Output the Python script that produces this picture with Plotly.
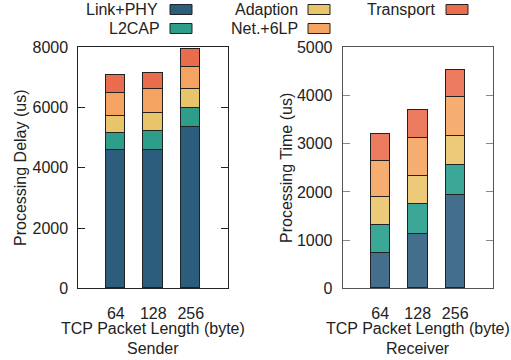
import plotly.graph_objects as go

categories = ["64", "128", "256"]
series_names = ["Link+PHY", "L2CAP", "Adaption", "Net.+6LP", "Transport"]

# Sender (stacked component values, us)
sender_link = [4570, 4595, 5350]
sender_l2cap = [580, 610, 630]
sender_adapt = [575, 590, 610]
sender_net = [755, 795, 755]
sender_transport = [575, 555, 575]

# Receiver (stacked component values, us)
recv_link = [726, 1127, 1921]
recv_l2cap = [587, 616, 631]
recv_adapt = [567, 587, 602]
recv_net = [755, 782, 801]
recv_transport = [566, 573, 568]

colors_left = ["#2d5d7c", "#2e9e8a", "#e8c46a", "#f4a460", "#e96d4c"]
colors_right = ["#436e8c", "#3aa797", "#edc97a", "#f5ad70", "#ec7b5f"]

sender = [sender_link, sender_l2cap, sender_adapt, sender_net, sender_transport]
receiver = [recv_link, recv_l2cap, recv_adapt, recv_net, recv_transport]

FONT = "Liberation Sans, Arial, sans-serif"
fig = go.Figure()
for i, name in enumerate(series_names):
    fig.add_trace(go.Bar(x=categories, y=sender[i], name=name, marker_color=colors_left[i],
                         marker_line=dict(color="#222", width=1), width=0.53,
                         xaxis="x", yaxis="y", showlegend=False))
    fig.add_trace(go.Bar(x=categories, y=receiver[i], name=name, marker_color=colors_right[i],
                         marker_line=dict(color="#222", width=1), width=0.53,
                         xaxis="x2", yaxis="y2", showlegend=False))

W, H = 511, 360
def px(x):
    return x / W
def py(y):
    return 1 - y / H

common_x = dict(type="category", range=[-1, 3], showline=True, mirror=True, ticks="",
                tickfont=dict(size=16, color="#222"), ticklabelstandoff=10, automargin=False)
common_y = dict(showline=True, mirror="ticks", ticks="inside", ticklen=7, showgrid=False,
                zeroline=False, tickfont=dict(size=16, color="#222"), ticklabelstandoff=6,
                automargin=False)

fig.update_layout(
    width=W, height=H, margin=dict(l=0, r=0, t=0, b=0),
    paper_bgcolor="white", plot_bgcolor="white", barmode="stack", bargap=0,
    font=dict(family=FONT, size=16, color="#222"),
    xaxis=dict(**common_x, domain=[px(78.3), px(228.3)], anchor="y", linecolor="#222"),
    yaxis=dict(**common_y, domain=[py(288.3), py(47.3)], anchor="x", range=[0, 8000],
               dtick=2000, linecolor="#222", tickcolor="#222"),
    xaxis2=dict(**common_x, domain=[px(342.7), px(492.7)], anchor="y2", linecolor="#555"),
    yaxis2=dict(**common_y, domain=[py(288.3), py(47.3)], anchor="x2", range=[0, 5000],
                dtick=1000, linecolor="#555", tickcolor="#888"),
)

annotations = []
shapes = []
# Axis titles as annotations
title_specs = [
    ("TCP Packet Length (byte)", 153.3, 328, 0),
    ("Sender", 153.3, 348, 0),
    ("TCP Packet Length (byte)", 417.7, 328, 0),
    ("Receiver", 417.7, 348, 0),
    ("Processing Delay (us)", 20, 168, -90),
    ("Processing Time (us)", 286, 168, -90),
]
for text, x, y, ang in title_specs:
    annotations.append(dict(text=text, x=px(x), y=py(y), xref="paper", yref="paper",
                            xanchor="center", yanchor="middle", showarrow=False,
                            textangle=ang, font=dict(size=16, color="#222")))

# Manual legend: text right-aligned then swatch to the right
legend_pos = [(160, 9.5), (162, 28.5), (300, 9.5), (300, 28.5), (437, 9.5)]
swatch_x = [170, 170, 308, 308, 446]
for i, name in enumerate(series_names):
    tx, ty = legend_pos[i]
    annotations.append(dict(text=name, x=px(tx), y=py(ty), xref="paper", yref="paper",
                            xanchor="right", yanchor="middle", showarrow=False,
                            font=dict(size=16, color="#222")))
    shapes.append(dict(type="rect", xref="paper", yref="paper",
                       x0=px(swatch_x[i]), x1=px(swatch_x[i] + 22),
                       y0=py(ty + 5), y1=py(ty - 5),
                       fillcolor=colors_left[i], line=dict(color="#222", width=1)))
fig.update_layout(annotations=annotations, shapes=shapes)

fig.write_html("out.html", config={"displayModeBar": False},
               post_script="document.body.style.margin='0';document.body.style.padding='0';")
